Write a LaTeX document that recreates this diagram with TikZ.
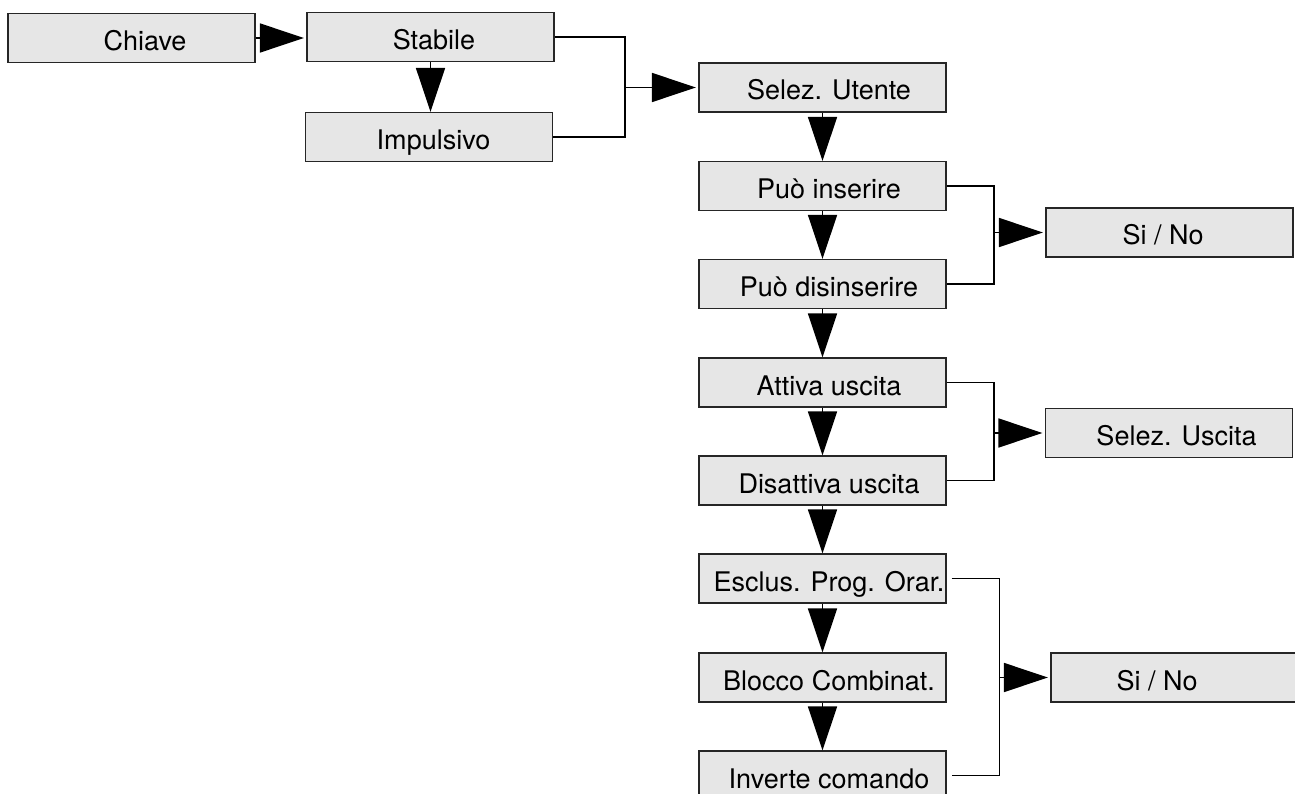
\documentclass[tikz,border=0pt]{standalone}
\usepackage{fontspec}
\setmainfont{TeX Gyre Heros}
\usetikzlibrary{arrows.meta}
\definecolor{boxfill}{HTML}{E6E6E6}
\begin{document}
\begin{tikzpicture}[x=1pt,y=-1pt,
  box/.style={draw=black!85, line width=1.2pt, fill=boxfill,
    minimum width=247pt, minimum height=49pt, inner sep=0pt,
    text height=25pt, text depth=0pt, font=\fontsize{27}{32}\selectfont},
  link/.style={line width=1.6pt},
  tri/.style={link, -{Triangle[length=44pt,width=29pt]}},
  trih/.style={tri, shorten >=2.5pt},
]
\useasboundingbox (0,0) rectangle (1295,794);
\clip (0,0) rectangle (1295,794);
\fill[white] (0,0) rectangle (1295,794);

% key type selection
\node[box] (chiave)  at (131.5,38)  {\hspace*{27pt}Chiave};
\node[box] (stabile) at (430.5,37)  {\hspace*{7pt}Stabile};
\node[box] (impuls)  at (429,137)   {\hspace*{9pt}Impulsivo};

% main menu column
\node[box] (utente)  at (822.5,87.5)  {\hspace*{13pt}Selez. Utente};
\node[box] (ins)     at (822.5,186)   {\hspace*{13pt}Può inserire};
\node[box] (disins)  at (822.5,284)   {\hspace*{13pt}Può disinserire};
\node[box] (att)     at (822.5,382.5) {\hspace*{13pt}Attiva uscita};
\node[box] (disatt)  at (822.5,480.5) {\hspace*{13pt}Disattiva uscita};
\node[box] (esclus)  at (822.5,578.5) {\hspace*{13pt}Esclus. Prog. Orar.};
\node[box] (blocco)  at (822.5,677.5) {\hspace*{13pt}Blocco Combinat.};
\node[box] (inverte) at (822.5,775.5) {\hspace*{13pt}Inverte comando};

% option boxes
\node[box] (sino1)  at (1169.5,232.5) {Si / No\hspace*{13pt}};
\node[box] (uscita) at (1169,433)     {\hspace*{15pt}Selez. Uscita};
\node[box] (sino2)  at (1174.5,677.5) {Si / No\hspace*{35pt}};

% bracket junction lines
\coordinate (b1) at (625,0);
\coordinate (b2) at (994,0);
\coordinate (b3) at (994,0);
\coordinate (b4) at (999.5,0);

% top row arrows
\draw[trih] (chiave.east) -- (chiave.east -| stabile.west);
\draw[tri] (stabile.south) -- (stabile.south |- impuls.north);
\draw[link] (stabile.east) -- (stabile.east -| b1) -- (impuls.east -| b1) -- (impuls.east);
\draw[trih] (b1 |- utente.west) -- (utente.west);

% column arrows
\draw[tri] (utente.south) -- (ins.north);
\draw[tri] (ins.south) -- (disins.north);
\draw[tri] (disins.south) -- (att.north);
\draw[tri] (att.south) -- (disatt.north);
\draw[tri] (disatt.south) -- (esclus.north);
\draw[tri] (esclus.south) -- (blocco.north);
\draw[tri] (blocco.south) -- (inverte.north);

% side brackets
\draw[link] (ins.east) -- (ins.east -| b2) -- (disins.east -| b2) -- (disins.east);
\draw[trih] (b2 |- sino1.west) -- (sino1.west);

\draw[link] (att.east) -- (att.east -| b3) -- (disatt.east -| b3) -- (disatt.east);
\draw[trih] (b3 |- uscita.west) -- (uscita.west);

\draw[link, shorten <=5pt, shorten >=5pt] (esclus.east) -- (esclus.east -| b4) -- (inverte.east -| b4) -- (inverte.east);
\draw[trih] (b4 |- sino2.west) -- (sino2.west);
\end{tikzpicture}
\end{document}
